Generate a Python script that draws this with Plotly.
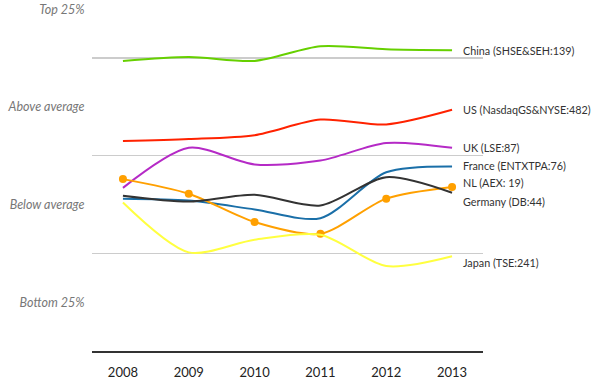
import plotly.graph_objects as go

years = [2008, 2009, 2010, 2011, 2012, 2013]

china = [2.97, 3.01, 2.97, 3.12, 3.09, 3.08]
us = [2.15, 2.17, 2.21, 2.37, 2.32, 2.47]
uk = [1.67, 2.08, 1.91, 1.95, 2.13, 2.08]
nl = [1.76, 1.61, 1.32, 1.20, 1.56, 1.68]
germany = [1.59, 1.53, 1.60, 1.49, 1.78, 1.62]
france = [1.56, 1.54, 1.45, 1.36, 1.83, 1.89]
japan = [1.52, 1.01, 1.14, 1.19, 0.87, 0.97]

band_vals = [0.5, 1.5, 2.5, 3.5]
band_labels = ["Bottom 25%", "Below average", "Above average", "Top 25%"]

series = [
    ("China (SHSE&SEH:139)", china, "#66d000", False, 0),
    ("US (NasdaqGS&NYSE:482)", us, "#ff2200", False, 0),
    ("UK (LSE:87)", uk, "#b52ac6", False, 0),
    ("France (ENTXTPA:76)", france, "#1a6fa8", False, 1),
    ("NL (AEX: 19)", nl, "#ffa000", True, 4),
    ("Germany (DB:44)", germany, "#333333", False, -9),
    ("Japan (TSE:241)", japan, "#ffff40", False, -6),
]

fig = go.Figure()
annotations = []
for name, vals, color, markers, yshift in series:
    fig.add_trace(go.Scatter(
        x=years, y=vals, name=name,
        mode="lines+markers" if markers else "lines",
        line=dict(color=color, width=2, shape="spline", smoothing=0.8),
        marker=dict(size=8, color=color),
        hoverinfo="skip",
    ))
    annotations.append(dict(
        x=years[-1], y=vals[-1], xref="x", yref="y", text=name,
        showarrow=False, xanchor="left", xshift=9, yshift=yshift,
        font=dict(family="Lato, sans-serif", size=10.8, color="#333333"),
    ))

fig.update_layout(
    width=600, height=384,
    margin=dict(l=92, r=117, t=4, b=33, autoexpand=False),
    paper_bgcolor="white", plot_bgcolor="white",
    showlegend=False,
    annotations=annotations,
    xaxis=dict(
        range=[2007.53, 2013.47], tickvals=years, ticktext=[str(y) for y in years],
        showgrid=False, zeroline=False, showline=True, linecolor="#333333", linewidth=2,
        ticks="outside", ticklen=8, tickcolor="rgba(0,0,0,0)", automargin=False,
        tickfont=dict(family="Lato, sans-serif", size=13, color="#222222"),
    ),
    yaxis=dict(
        range=[0, 3.553], tickvals=band_vals, ticktext=band_labels,
        showgrid=False, zeroline=False, showline=False,
        ticks="outside", ticklen=4, tickcolor="rgba(0,0,0,0)", automargin=False,
        tickfont=dict(family="Lato, sans-serif", size=12.5, color="#777777", style="italic"),
        minor=dict(tick0=0, dtick=1, showgrid=True, gridcolor="#cccccc", gridwidth=1.5),
    ),
)

fig.write_html(
    "out.html",
    config={"displayModeBar": False, "staticPlot": True},
    post_script="document.body.style.margin='0';document.body.style.padding='0';",
)
